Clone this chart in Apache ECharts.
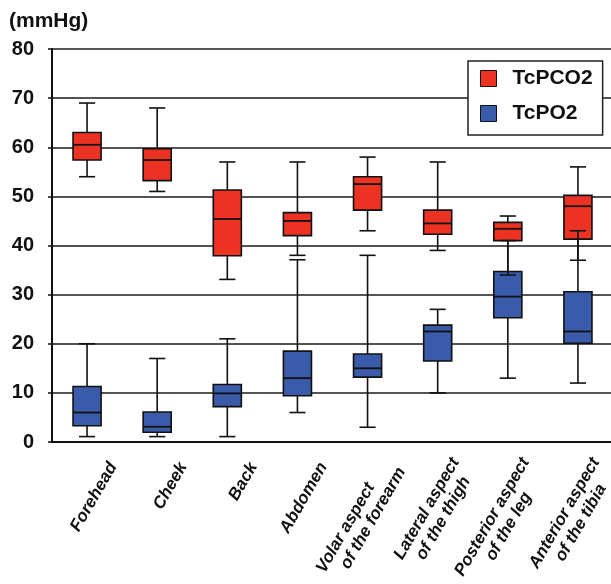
<!DOCTYPE html>
<html>
<head>
<meta charset="utf-8">
<script src="https://cdn.jsdelivr.net/npm/echarts@6/dist/echarts.min.js"></script>
<style>html,body{margin:0;padding:0;background:#fff;}#c{width:611px;height:584px;}</style>
</head>
<body>
<div id="c"></div>
<script>
// Data: [min, Q1, median, Q3, max]
const categories = ['Forehead', 'Cheek', 'Back', 'Abdomen',
  'Volar aspect\nof the forearm', 'Lateral aspect\nof the thigh',
  'Posterior aspect\nof the leg', 'Anterior aspect\nof the tibia'];
const tcpco2 = [
  [54.0, 57.4, 60.5, 63.0, 69.0],
  [51.0, 53.2, 57.4, 59.7, 68.0],
  [33.1, 37.9, 45.4, 51.3, 57.0],
  [38.0, 42.0, 45.0, 46.7, 57.0],
  [43.0, 47.2, 52.5, 54.0, 58.0],
  [39.0, 42.3, 44.5, 47.2, 57.0],
  [34.0, 41.0, 43.4, 44.7, 46.0],
  [37.0, 41.3, 48.0, 50.2, 56.0]
];
const tcpo2 = [
  [1.1, 3.3, 6.0, 11.3, 20.0],
  [1.1, 2.0, 3.1, 6.1, 17.0],
  [1.1, 7.2, 9.9, 11.7, 21.0],
  [6.0, 9.4, 13.0, 18.5, 37.1],
  [3.0, 13.2, 15.0, 17.9, 38.0],
  [10.0, 16.5, 22.5, 23.8, 27.0],
  [13.0, 25.3, 29.6, 34.7, 41.0],
  [12.0, 20.1, 22.5, 30.6, 43.0]
];
const yTicks = { min: 0, max: 80, interval: 10 };
const seriesNames = ['TcPCO2', 'TcPO2'];

const RED = '#ec3323', BLUE = '#3a5ba9', INK = '#111';
const FONT = '"Liberation Sans", Arial, Helvetica, sans-serif';
// second line of the forearm label sits further along in the reference
const INDENTED_LABEL = 4;

const toRows = arr => arr.map((d, i) => [i].concat(d));

function boxRender(color) {
  return function (params, api) {
    const x = api.value(0);
    const pQ1 = api.coord([x, api.value(2)]);
    const pMed = api.coord([x, api.value(3)]);
    const pQ3 = api.coord([x, api.value(4)]);
    const bw = api.size([1, 0])[0] * 0.4;
    return {
      type: 'group',
      children: [
        { type: 'rect', shape: { x: pQ3[0] - bw / 2, y: pQ3[1], width: bw, height: pQ1[1] - pQ3[1] },
          style: { fill: color, stroke: INK, lineWidth: 1.6 } },
        { type: 'line', shape: { x1: pMed[0] - bw / 2, y1: pMed[1], x2: pMed[0] + bw / 2, y2: pMed[1] },
          style: { stroke: INK, lineWidth: 1.8 } }
      ]
    };
  };
}
function whiskerRender(params, api) {
  const x = api.value(0);
  const pMin = api.coord([x, api.value(1)]);
  const pQ1 = api.coord([x, api.value(2)]);
  const pQ3 = api.coord([x, api.value(4)]);
  const pMax = api.coord([x, api.value(5)]);
  const cw = api.size([1, 0])[0] * 0.23;
  const st = { stroke: INK, lineWidth: 1.6 };
  return {
    type: 'group',
    children: [
      { type: 'line', shape: { x1: pQ3[0], y1: pQ3[1], x2: pMax[0], y2: pMax[1] }, style: st },
      { type: 'line', shape: { x1: pQ1[0], y1: pQ1[1], x2: pMin[0], y2: pMin[1] }, style: st },
      { type: 'line', shape: { x1: pMax[0] - cw / 2, y1: pMax[1], x2: pMax[0] + cw / 2, y2: pMax[1] }, style: st },
      { type: 'line', shape: { x1: pMin[0] - cw / 2, y1: pMin[1], x2: pMin[0] + cw / 2, y2: pMin[1] }, style: st }
    ]
  };
}
const enc = { x: 0, y: [1, 2, 3, 4, 5] };
const labelText = { fontFamily: FONT, fontSize: 17, fontWeight: 'bold', fontStyle: 'italic', color: INK, lineHeight: 19, align: 'center' };

const chart = echarts.init(document.getElementById('c'), null, { renderer: 'canvas' });
chart.setOption({
  backgroundColor: '#ffffff',
  animation: false,
  title: {
    text: '(mmHg)', left: 4, top: 6,
    textStyle: { fontFamily: FONT, fontSize: 21, fontWeight: 'bold', color: INK }
  },
  legend: {
    orient: 'vertical', left: 468, top: 61,
    itemWidth: 16, itemHeight: 16, itemGap: 14,
    padding: [7, 10, 11, 12],
    borderColor: '#222', borderWidth: 1.5, backgroundColor: '#fff',
    textStyle: { fontFamily: FONT, fontSize: 21, fontWeight: 'bold', color: INK, padding: [0, 0, 0, 11] },
    data: [
      { name: seriesNames[0], icon: 'rect', itemStyle: { color: RED, borderColor: INK, borderWidth: 1 } },
      { name: seriesNames[1], icon: 'rect', itemStyle: { color: BLUE, borderColor: INK, borderWidth: 1 } }
    ]
  },
  grid: [
    { left: 52, top: 49, width: 561, bottom: 142, containLabel: false, outerBoundsMode: 'none' },
    { left: 78, top: 49, width: 561, bottom: 142, containLabel: false, outerBoundsMode: 'none' }
  ],
  xAxis: [
    {
      type: 'category', gridIndex: 0, data: categories,
      axisLine: { show: true, lineStyle: { color: INK, width: 2 } },
      axisTick: { show: false }, axisLabel: { show: false }, splitLine: { show: false }
    },
    {
      type: 'category', gridIndex: 1, data: categories,
      axisLine: { show: false }, axisTick: { show: false }, splitLine: { show: false },
      axisLabel: {
        interval: 0, rotate: 60, margin: 22, align: 'right', verticalAlign: 'middle',
        formatter: (v, i) => v.split('\n').map((s, k) =>
          (k === 1 && i === INDENTED_LABEL ? '{d|' : '{c|') + s + '}').join('\n'),
        rich: {
          c: labelText,
          d: Object.assign({}, labelText, { padding: [0, 0, 0, 44] })
        }
      }
    }
  ],
  yAxis: [
    {
      type: 'value', gridIndex: 0, min: yTicks.min, max: yTicks.max, interval: yTicks.interval,
      axisLine: { show: true, lineStyle: { color: INK, width: 2 } },
      axisTick: { show: true, length: 4, lineStyle: { color: INK, width: 1.5 } },
      axisLabel: { margin: 18, fontFamily: FONT, fontSize: 20, fontWeight: 'bold', color: INK },
      splitLine: { show: true, lineStyle: { color: '#1a1a1a', width: 1.5 } }
    },
    { type: 'value', gridIndex: 1, min: yTicks.min, max: yTicks.max, show: false }
  ],
  series: [
    { type: 'custom', name: seriesNames[1], xAxisIndex: 0, yAxisIndex: 0, renderItem: boxRender(BLUE),
      data: toRows(tcpo2), encode: enc, itemStyle: { color: BLUE }, z: 3 },
    { type: 'custom', name: seriesNames[0], xAxisIndex: 0, yAxisIndex: 0, renderItem: boxRender(RED),
      data: toRows(tcpco2), encode: enc, itemStyle: { color: RED }, z: 3 },
    { type: 'custom', name: seriesNames[1], xAxisIndex: 0, yAxisIndex: 0, renderItem: whiskerRender,
      data: toRows(tcpo2), encode: enc, itemStyle: { color: BLUE }, z: 4 },
    { type: 'custom', name: seriesNames[0], xAxisIndex: 0, yAxisIndex: 0, renderItem: whiskerRender,
      data: toRows(tcpco2), encode: enc, itemStyle: { color: RED }, z: 4 }
  ]
});
</script>
</body>
</html>
